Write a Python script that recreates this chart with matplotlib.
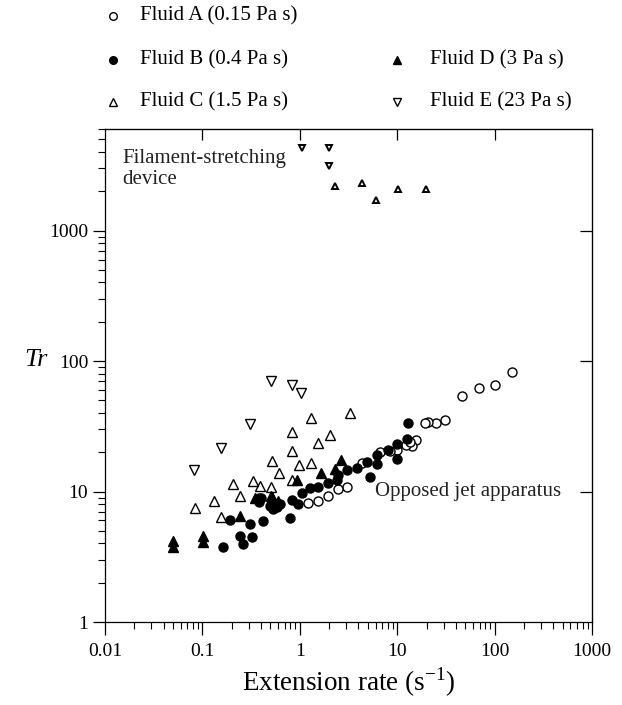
import numpy as np
import matplotlib
matplotlib.use('Agg')
import matplotlib.pyplot as plt
from matplotlib.lines import Line2D
from matplotlib.ticker import LogLocator, NullLocator, FixedLocator, FixedFormatter

plt.rcParams['font.family'] = ['Liberation Serif', 'DejaVu Serif']
plt.rcParams['mathtext.fontset'] = 'custom'
plt.rcParams['mathtext.rm'] = 'Liberation Serif'

# Fluid A (0.15 Pa s) - opposed jet
a_x = [152, 101, 69.2, 45.9, 31.0, 25.0, 20.8, 19.3, 15.6, 14.1, 12.3, 13.5, 9.9, 6.65,
       3.03, 2.48, 1.96, 1.55, 1.22, 4.3, 8.5]
a_y = [82.8, 65.3, 62.3, 54.1, 35.6, 33.5, 34.1, 33.5, 24.7, 22.2, 22.6, 24.0, 20.7, 20.1,
       10.8, 10.5, 9.2, 8.5, 8.1, 16.5, 20.5]

# Fluid B (0.4 Pa s) - opposed jet
b_x = [0.192, 0.164, 0.243, 0.263, 0.32, 0.31, 0.416, 0.384, 0.384, 0.51, 0.58,
       13.0, 12.5, 9.9, 9.9, 8.1, 6.15, 6.15, 4.86, 5.26, 3.84, 3.08, 2.48, 2.4,
       1.96, 1.55, 1.27, 1.05, 0.83, 0.627, 0.49, 0.40, 0.80, 0.53, 0.95]
b_y = [6.1, 3.78, 4.6, 3.96, 4.5, 5.6, 5.9, 9.0, 8.3, 7.8, 7.6,
       33.5, 25.4, 23.0, 17.9, 20.7, 18.9, 16.3, 16.8, 13.0, 15.2, 14.7, 13.5, 12.3,
       11.6, 10.9, 10.7, 9.7, 8.6, 8.0, 7.8, 8.9, 6.3, 7.4, 8.0]

# Fluid C (1.5 Pa s)
c_x = [3.27, 1.30, 0.83, 2.04, 1.55, 0.83, 0.518, 0.98, 1.30, 0.616, 0.83, 0.51,
       0.39, 0.33, 0.208, 0.243, 0.131, 0.083, 0.155]
c_y = [40.3, 36.5, 28.6, 27.3, 23.5, 20.3, 17.0, 16.0, 16.5, 13.8, 12.3, 10.8,
       11.1, 12.0, 11.5, 9.3, 8.5, 7.5, 6.4]
c_fil_x = [2.30, 4.32, 6.05, 10.1, 19.8]
c_fil_y = [2180, 2300, 1700, 2070, 2070]

# Fluid D (3 Pa s)
d_x = [0.050, 0.050, 0.102, 0.102, 0.243, 0.51, 2.65, 1.65, 0.93, 0.52, 0.35, 0.6, 2.3]
d_y = [4.2, 3.73, 4.6, 4.07, 6.5, 9.2, 17.5, 13.8, 12.3, 9.1, 9.0, 8.5, 15.0]

# Fluid E (23 Pa s)
e_x = [0.082, 0.154, 0.31, 0.51, 0.83, 1.03]
e_y = [14.5, 21.7, 32.7, 70.5, 65.3, 56.5]
e_fil_x = [1.05, 2.0, 2.0]
e_fil_y = [4300, 4300, 3150]

legend_labels = ['Fluid A (0.15 Pa s)', 'Fluid B (0.4 Pa s)', 'Fluid C (1.5 Pa s)',
                 'Fluid D (3 Pa s)', 'Fluid E (23 Pa s)']

fig = plt.figure(figsize=(6.22, 7.05), dpi=100)
ax = fig.add_axes([0.1688, 0.1177, 0.783, 0.6993])

ms = 6.5
mew = 1.0
ax.plot(a_x, a_y, 'o', ms=ms, mfc='white', mec='black', mew=mew, ls='none')
ax.plot(b_x, b_y, 'o', ms=ms, mfc='black', mec='black', mew=mew, ls='none')
ax.plot(c_x, c_y, '^', ms=ms, mfc='white', mec='black', mew=mew, ls='none')
ax.plot(d_x, d_y, '^', ms=ms, mfc='black', mec='black', mew=mew, ls='none')
ax.plot(e_x, e_y, 'v', ms=ms, mfc='white', mec='black', mew=mew, ls='none')
ax.plot(c_fil_x, c_fil_y, '^', ms=5, mfc='white', mec='black', mew=1.4, ls='none')
ax.plot(e_fil_x, e_fil_y, 'v', ms=5, mfc='white', mec='black', mew=1.4, ls='none')

ax.set_xscale('log')
ax.set_yscale('log')
ax.set_xlim(0.01, 1000)
ax.set_ylim(1, 6000)

for s in ax.spines.values():
    s.set_linewidth(0.9)

ax.xaxis.set_major_locator(FixedLocator([0.01, 0.1, 1, 10, 100, 1000]))
ax.xaxis.set_major_formatter(FixedFormatter(['0.01', '0.1', '1', '10', '100', '1000']))
ax.yaxis.set_major_locator(FixedLocator([1, 10, 100, 1000]))
ax.yaxis.set_major_formatter(FixedFormatter(['1', '10', '100', '1000']))
ax.xaxis.set_minor_locator(LogLocator(base=10, subs=np.arange(2, 10)))
ax.yaxis.set_minor_locator(LogLocator(base=10, subs=np.arange(2, 10)))
ax.tick_params(which='major', direction='out', length=9, width=0.9, labelsize=14,
               top=False, right=False)
ax.tick_params(which='minor', direction='out', length=5, width=0.8,
               top=False, right=False)
ax.tick_params(axis='x', pad=6)
ax.tick_params(axis='y', pad=3)

# inward major ticks on top and right
top = ax.secondary_xaxis('top')
top.set_xscale('log')
top.xaxis.set_major_locator(FixedLocator([0.1, 1, 10, 100]))
top.xaxis.set_minor_locator(NullLocator())
top.tick_params(direction='in', length=8, width=0.9, labeltop=False)
right = ax.secondary_yaxis('right')
right.set_yscale('log')
right.yaxis.set_major_locator(FixedLocator([10, 100, 1000]))
right.yaxis.set_minor_locator(NullLocator())
right.tick_params(direction='in', length=9, width=0.9, labelright=False)

ax.set_xlabel('Extension rate (s$^{-1}$)', fontsize=19.5, labelpad=4)
fig.text(0.058, 0.489, 'Tr', fontsize=19, style='italic', ha='center', va='center')

ax.text(0.035, 0.919, 'Filament-stretching\ndevice', transform=ax.transAxes,
        fontsize=15, ha='left', va='center', linespacing=1.15, color='#222222')
ax.text(0.554, 0.264, 'Opposed jet apparatus', transform=ax.transAxes,
        fontsize=15, ha='left', va='center', color='#222222')

# legend drawn in figure coordinates
leg_marker = [('o', 'white'), ('o', 'black'), ('^', 'white'), ('^', 'black'), ('v', 'white')]
leg_mx = [0.1817, 0.1817, 0.1817, 0.638, 0.638]
leg_tx = [0.225, 0.225, 0.225, 0.691, 0.691]
leg_y = [0.977, 0.915, 0.855, 0.915, 0.855]
for (mk, fc), mx, tx, yy, lab in zip(leg_marker, leg_mx, leg_tx, leg_y, legend_labels):
    fig.add_artist(Line2D([mx], [yy], marker=mk, ms=5.5, mfc=fc, mec='black', mew=1.0,
                          ls='none', transform=fig.transFigure))
    fig.text(tx, yy, lab, fontsize=15, ha='left', va='center')

fig.savefig('out.png', dpi=100)
